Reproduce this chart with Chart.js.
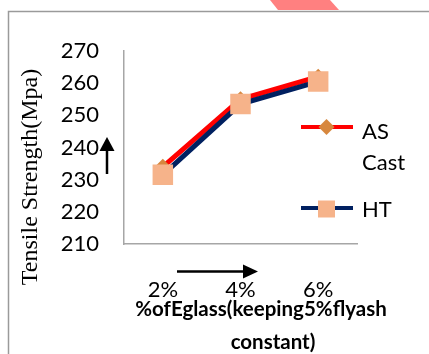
<!DOCTYPE html>
<html>
<head>
<meta charset="utf-8">
<script src="https://cdn.jsdelivr.net/npm/chart.js@4/dist/chart.umd.min.js"></script>
<style>
  html, body { margin: 0; padding: 0; background: #fff; }
  #c { display: block; }
</style>
</head>
<body>
<canvas id="c" width="429" height="354"></canvas>
<script>
// Tensile strength vs. E-glass content (5% fly ash kept constant)
const categories = ['2%', '4%', '6%'];
const asCastValues = [234, 255, 262];
const heatTreatedValues = [231.5, 253.5, 260.5];
const seriesLabels = ['AS Cast', 'HT'];
const yTickRange = { min: 210, max: 270, step: 10 };
const yTitle = 'Tensile Strength(Mpa)';
const xTitleLines = ['%ofEglass(keeping5%flyash', 'constant)'];

const TICK_FONT = { family: 'Lato', size: 22 };
const AXIS_GRAY = '#a6a6a6';

// Outer frame and the pink strip at the top edge
const framePlugin = {
  id: 'frame',
  beforeDraw(chart) {
    const ctx = chart.ctx;
    ctx.save();
    ctx.fillStyle = '#fff';
    ctx.fillRect(0, 0, chart.width, chart.height);
    ctx.fillStyle = '#ff8080';
    ctx.beginPath();
    ctx.moveTo(270, 0);
    ctx.lineTo(330, 0);
    ctx.lineTo(339, 10);
    ctx.lineTo(278, 10);
    ctx.closePath();
    ctx.fill();
    ctx.strokeStyle = '#9a9a9a';
    ctx.lineWidth = 1.5;
    ctx.strokeRect(8.5, 11.5, chart.width + 20, chart.height + 20);
    ctx.restore();
  }
};

function drawArrow(ctx, x1, y1, x2, y2, head, halfW) {
  const ang = Math.atan2(y2 - y1, x2 - x1);
  const bx = x2 - Math.cos(ang) * head;
  const by = y2 - Math.sin(ang) * head;
  ctx.beginPath();
  ctx.moveTo(x1, y1);
  ctx.lineTo(bx, by);
  ctx.stroke();
  ctx.beginPath();
  ctx.moveTo(x2, y2);
  ctx.lineTo(bx + Math.sin(ang) * halfW, by - Math.cos(ang) * halfW);
  ctx.lineTo(bx - Math.sin(ang) * halfW, by + Math.cos(ang) * halfW);
  ctx.closePath();
  ctx.fill();
}

function drawMarker(ctx, style, x, y, size, color) {
  ctx.fillStyle = color;
  ctx.beginPath();
  if (style === 'rectRot') {
    ctx.moveTo(x, y - size);
    ctx.lineTo(x + size, y);
    ctx.lineTo(x, y + size);
    ctx.lineTo(x - size, y);
  } else {
    ctx.rect(x - size, y - size, size * 2, size * 2);
  }
  ctx.closePath();
  ctx.fill();
}

// Axis titles, direction arrows and the side legend
const decorPlugin = {
  id: 'decor',
  afterDraw(chart) {
    const ctx = chart.ctx;
    ctx.save();

    // y-axis title (serif, rotated)
    ctx.fillStyle = '#000';
    ctx.font = '24px "Liberation Serif"';
    ctx.textAlign = 'center';
    ctx.textBaseline = 'middle';
    ctx.translate(31, 177);
    ctx.rotate(-Math.PI / 2);
    ctx.fillText(yTitle, 0, 0);
    ctx.setTransform(1, 0, 0, 1, 0, 0);

    // x-axis title (bold, two lines)
    ctx.font = 'bold 20.5px Lato';
    ctx.textBaseline = 'alphabetic';
    ctx.fillText(xTitleLines[0], 261, 316);
    ctx.fillText(xTitleLines[1], 273, 349);

    // direction arrows
    ctx.strokeStyle = '#000';
    ctx.fillStyle = '#000';
    ctx.lineWidth = 2.5;
    drawArrow(ctx, 107, 174, 107, 137, 14, 7.5);
    drawArrow(ctx, 177, 271.5, 258, 271.5, 15, 7);

    // legend, built from the datasets
    const items = chart.data.datasets;
    const rows = [
      { lineY: 127, textY: [139, 170] },
      { lineY: 208, textY: [217] }
    ];
    const lx0 = 301, lx1 = 353, mx = 326.5, tx = 362;
    items.forEach((ds, i) => {
      const row = rows[i];
      ctx.strokeStyle = ds.borderColor;
      ctx.lineWidth = 4;
      ctx.beginPath();
      ctx.moveTo(lx0, row.lineY);
      ctx.lineTo(lx1, row.lineY);
      ctx.stroke();
      const size = ds.pointStyle === 'rectRot' ? 8 : 8.5;
      drawMarker(ctx, ds.pointStyle, mx, row.lineY + (i === 1 ? 1 : 0), size, ds.pointBackgroundColor);
      ctx.fillStyle = '#000';
      ctx.font = '22px Lato';
      ctx.textAlign = 'left';
      ctx.textBaseline = 'alphabetic';
      const words = row.textY.length > 1 ? ds.label.split(' ') : [ds.label];
      words.forEach((w, k) => ctx.fillText(w, tx, row.textY[k]));
    });
    ctx.restore();
  }
};

new Chart(document.getElementById('c'), {
  type: 'line',
  data: {
    labels: categories,
    datasets: [
      {
        label: seriesLabels[0],
        data: asCastValues,
        borderColor: '#ff0000',
        borderWidth: 5,
        pointStyle: 'rectRot',
        pointRadius: 8,
        pointBackgroundColor: '#d7873e',
        pointBorderColor: '#d7873e',
        pointBorderWidth: 0,
        tension: 0,
        order: 1
      },
      {
        label: seriesLabels[1],
        data: heatTreatedValues,
        borderColor: '#002060',
        borderWidth: 5,
        pointStyle: 'rect',
        pointRadius: 14.5,
        pointBackgroundColor: '#f6b38a',
        pointBorderColor: '#f6b38a',
        pointBorderWidth: 0,
        tension: 0,
        order: 0
      }
    ]
  },
  options: {
    responsive: false,
    devicePixelRatio: 1,
    animation: false,
    layout: { padding: { top: 51, right: 72, bottom: 0, left: 0 } },
    plugins: {
      legend: { display: false },
      tooltip: { enabled: false }
    },
    scales: {
      x: {
        type: 'category',
        offset: true,
        grid: { display: false, drawTicks: false },
        border: { display: true, color: AXIS_GRAY, width: 1.5 },
        ticks: { font: TICK_FONT, color: '#000', padding: 33 },
        afterFit(scale) { scale.height = 110; }
      },
      y: {
        min: yTickRange.min,
        max: yTickRange.max,
        grid: { display: false, drawTicks: false },
        border: { display: true, color: AXIS_GRAY, width: 1.5 },
        ticks: { stepSize: yTickRange.step, font: TICK_FONT, color: '#000', padding: 25 },
        afterFit(scale) { scale.width = 124; }
      }
    }
  },
  plugins: [framePlugin, decorPlugin]
});
</script>
</body>
</html>
